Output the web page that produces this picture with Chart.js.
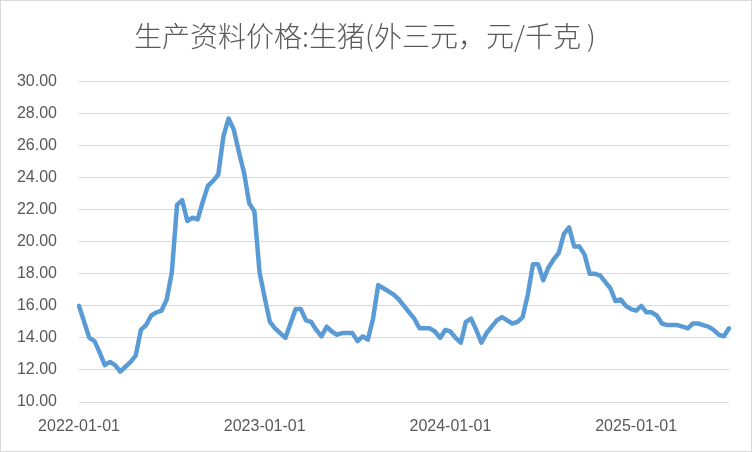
<!DOCTYPE html>
<html>
<head>
<meta charset="utf-8">
<script src="https://cdn.jsdelivr.net/npm/chart.js@4"></script>
<style>
html,body{margin:0;padding:0;background:#fff;}
#wrap{width:752px;height:452px;box-sizing:border-box;border:1px solid #d9d9d9;background:#fff;}
canvas{display:block;}
</style>
</head>
<body>
<div id="wrap"><canvas id="c" width="750" height="450"></canvas></div>
<script>
const titleText = "生产资料价格:生猪(外三元，元/千克 )";
const seriesName = "生猪(外三元)";
const categories = [
"2022-01-01","2022-01-11","2022-01-21","2022-02-01","2022-02-11","2022-02-21","2022-03-01","2022-03-11","2022-03-21",
"2022-04-01","2022-04-11","2022-04-21","2022-05-01","2022-05-11","2022-05-21","2022-06-01","2022-06-11","2022-06-21",
"2022-07-01","2022-07-11","2022-07-21","2022-08-01","2022-08-11","2022-08-21","2022-09-01","2022-09-11","2022-09-21",
"2022-10-01","2022-10-11","2022-10-21","2022-11-01","2022-11-11","2022-11-21","2022-12-01","2022-12-11","2022-12-21",
"2023-01-01","2023-01-11","2023-01-21","2023-02-01","2023-02-11","2023-02-21","2023-03-01","2023-03-11","2023-03-21",
"2023-04-01","2023-04-11","2023-04-21","2023-05-01","2023-05-11","2023-05-21","2023-06-01","2023-06-11","2023-06-21",
"2023-07-01","2023-07-11","2023-07-21","2023-08-01","2023-08-11","2023-08-21","2023-09-01","2023-09-11","2023-09-21",
"2023-10-01","2023-10-11","2023-10-21","2023-11-01","2023-11-11","2023-11-21","2023-12-01","2023-12-11","2023-12-21",
"2024-01-01","2024-01-11","2024-01-21","2024-02-01","2024-02-11","2024-02-21","2024-03-01","2024-03-11","2024-03-21",
"2024-04-01","2024-04-11","2024-04-21","2024-05-01","2024-05-11","2024-05-21","2024-06-01","2024-06-11","2024-06-21",
"2024-07-01","2024-07-11","2024-07-21","2024-08-01","2024-08-11","2024-08-21","2024-09-01","2024-09-11","2024-09-21",
"2024-10-01","2024-10-11","2024-10-21","2024-11-01","2024-11-11","2024-11-21","2024-12-01","2024-12-11","2024-12-21",
"2025-01-01","2025-01-11","2025-01-21","2025-02-01","2025-02-11","2025-02-21","2025-03-01","2025-03-11","2025-03-21",
"2025-04-01","2025-04-11","2025-04-21","2025-05-01","2025-05-11","2025-05-21","2025-06-01","2025-06-11","2025-06-21",
"2025-07-01"
];
const prices = [
16.0,15.0,14.0,13.8,13.1,12.3,12.5,12.3,11.9,
12.2,12.5,12.9,14.5,14.8,15.4,15.6,15.7,16.4,
18.1,22.3,22.6,21.3,21.5,21.4,22.5,23.5,23.8,
24.2,26.6,27.7,27.0,25.6,24.3,22.4,21.9,18.1,
16.5,15.0,14.6,14.3,14.0,14.9,15.8,15.8,15.1,
15.0,14.5,14.1,14.7,14.4,14.2,14.3,14.3,14.3,
13.8,14.1,13.9,15.2,17.3,17.1,16.9,16.7,16.4,
16.0,15.6,15.2,14.6,14.6,14.6,14.4,14.0,14.5,
14.4,14.0,13.7,15.0,15.2,14.5,13.7,14.3,14.7,
15.1,15.3,15.1,14.9,15.0,15.3,16.7,18.6,18.6,
17.6,18.4,18.9,19.3,20.5,20.9,19.7,19.7,19.2,
18.0,18.0,17.9,17.5,17.1,16.3,16.4,16.0,15.8,
15.7,16.0,15.6,15.6,15.4,14.9,14.8,14.8,14.8,
14.7,14.6,14.9,14.9,14.8,14.7,14.5,14.2,14.1,
14.6
];
const xLabelEvery = 36;
const yMin = 10, yMax = 30, yStep = 2;

const tickFont = {family: "'Liberation Sans', Arial, sans-serif", size: 16};
const textColor = '#595959';

new Chart(document.getElementById('c'), {
  type: 'line',
  data: {
    labels: categories,
    datasets: [{
      label: seriesName,
      data: prices,
      borderColor: '#5b9bd5',
      backgroundColor: '#5b9bd5',
      borderWidth: 4.5,
      pointRadius: 0,
      pointHoverRadius: 0,
      tension: 0,
      fill: false,
      borderJoinStyle: 'round',
      borderCapStyle: 'round'
    }]
  },
  options: {
    responsive: false,
    animation: false,
    devicePixelRatio: 1,
    layout: {padding: {left: 0, right: 22, top: 0, bottom: 0}},
    plugins: {
      legend: {display: false},
      tooltip: {enabled: false},
      title: {
        display: true,
        text: titleText,
        color: textColor,
        font: {family: "'Noto Sans CJK SC', sans-serif", size: 28, weight: 300, lineHeight: 1.2},
        padding: {top: 19, bottom: 28}
      }
    },
    scales: {
      x: {
        type: 'category',
        offset: false,
        grid: {display: false, drawTicks: false},
        border: {display: false},
        ticks: {
          autoSkip: false,
          maxRotation: 0,
          minRotation: 0,
          padding: 15,
          color: textColor,
          font: tickFont,
          callback: function(v, i) { return i % xLabelEvery === 0 ? categories[i] : null; }
        },
        afterFit: function(s) { s.height = 49; }
      },
      y: {
        min: yMin,
        max: yMax,
        grid: {color: '#d9d9d9', lineWidth: 1, drawTicks: false},
        border: {display: false},
        ticks: {
          stepSize: yStep,
          padding: 22,
          color: textColor,
          font: tickFont,
          callback: function(v) { return Number(v).toFixed(2); }
        },
        afterFit: function(s) { s.width = 78; }
      }
    }
  }
});
</script>
</body>
</html>
